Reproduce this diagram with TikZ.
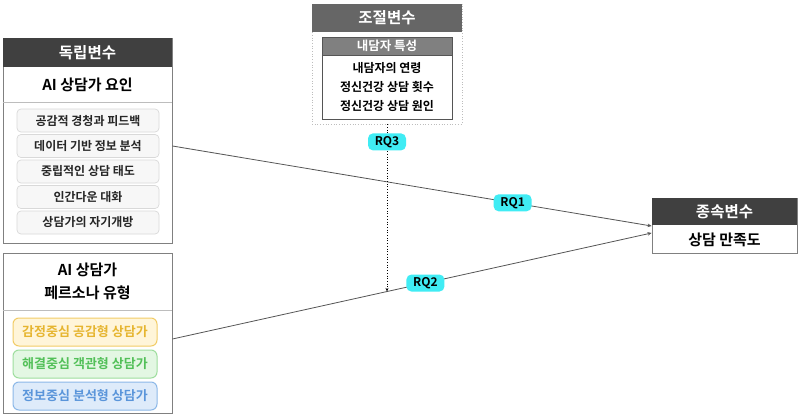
\documentclass[tikz,border=0pt]{standalone}
\usepackage{fontspec}
\setmainfont{Noto Sans CJK KR}[BoldFont={Noto Sans CJK KR Bold}]
\usetikzlibrary{arrows.meta}
\definecolor{hdark}{HTML}{404040}
\definecolor{modhead}{HTML}{666666}
\definecolor{modinhead}{HTML}{808080}
\definecolor{boxline}{HTML}{808080}
\definecolor{sepgray}{HTML}{BDBDBD}
\definecolor{itemfill}{HTML}{F7F7F7}
\definecolor{itemline}{HTML}{D9D9D9}
\definecolor{itemtext}{HTML}{262626}
\definecolor{rqcyan}{HTML}{40ECF4}
\definecolor{yfill}{HTML}{FFF5D9}
\definecolor{yline}{HTML}{F2CC66}
\definecolor{ytext}{HTML}{E6B530}
\definecolor{gfill}{HTML}{E3F7E3}
\definecolor{gline}{HTML}{9EDE9E}
\definecolor{gtext}{HTML}{52C058}
\definecolor{bfill}{HTML}{DEEBFA}
\definecolor{bline}{HTML}{8CB8E8}
\definecolor{btext}{HTML}{5A95DA}
\definecolor{connline}{HTML}{555555}
\tikzset{
  outerbox/.style={draw=boxline, line width=0.9pt, inner sep=0pt, fill=white},
  hdr/.style={inner sep=0pt, text=white, font=\bfseries\fontsize{15.5}{18}\selectfont},
  ttl/.style={inner sep=0pt, text=black, font=\bfseries\fontsize{15}{23}\selectfont, align=center},
  itembox/.style={draw=itemline, fill=itemfill, rounded corners=4pt, line width=0.7pt, inner sep=0pt,
    minimum width=142pt, minimum height=23pt, text=itemtext, font=\bfseries\fontsize{12}{14}\selectfont},
  persona/.style={rounded corners=6pt, line width=1pt, inner sep=0pt,
    minimum width=144pt, minimum height=28pt, font=\bfseries\fontsize{13}{15}\selectfont},
  rq/.style={fill=rqcyan, rounded corners=5pt, inner sep=0pt, minimum width=38pt, minimum height=17pt,
    text=black, font=\bfseries\fontsize{12}{13}\selectfont},
  conn/.style={draw=connline, line width=0.8pt, -{Stealth[length=4pt,width=3.5pt]}},
  modarrow/.style={draw=black, line width=0.7pt, dotted, -{Stealth[length=3.5pt,width=3pt]}},
}
\begin{document}
\begin{tikzpicture}[x=1pt,y=-1pt]
\useasboundingbox (0,0) rectangle (800,420);
\fill[white] (0,0) rectangle (800,420);

% Independent variable box 1
\node[outerbox, minimum width=169pt, minimum height=205pt] (iv1) at (87.5,140.5) {};
\node[hdr, fill=hdark, minimum width=169pt, minimum height=29pt] (iv1h) at (87.5,52.5) {독립변수};
\node[ttl, minimum width=169pt, minimum height=35pt] (iv1t) at (87.5,84.5) {AI 상담가 요인};
\draw[sepgray, line width=0.8pt] (iv1t.south west) -- (iv1t.south east);
\node[itembox] (a1) at (88,120.5) {공감적 경청과 피드백};
\node[itembox] (a2) at (88,146) {데이터 기반 정보 분석};
\node[itembox] (a3) at (88,171.5) {중립적인 상담 태도};
\node[itembox] (a4) at (88,197) {인간다운 대화};
\node[itembox] (a5) at (88,222.5) {상담가의 자기개방};

% Independent variable box 2
\node[outerbox, minimum width=169pt, minimum height=160pt] (iv2) at (87.5,333) {};
\node[ttl, minimum width=169pt, minimum height=57pt] (iv2t) at (87.5,281.5) {AI 상담가\\페르소나 유형};
\draw[sepgray, line width=0.8pt] (iv2t.south west) -- (iv2t.south east);
\node[persona, draw=yline, fill=yfill, text=ytext] (p1) at (85,332) {감정중심 공감형 상담가};
\node[persona, draw=gline, fill=gfill, text=gtext] (p2) at (85,364) {해결중심 객관형 상담가};
\node[persona, draw=bline, fill=bfill, text=btext] (p3) at (85,396) {정보중심 분석형 상담가};

% Moderator
\node[draw=sepgray, dotted, line width=0.7pt, inner sep=0pt, minimum width=150pt, minimum height=120pt] (mod) at (387,64) {};
\node[hdr, fill=modhead, minimum width=150pt, minimum height=28pt] (modh) at (387,18) {조절변수};
\node[draw=connline, line width=0.8pt, fill=white, inner sep=0pt, minimum width=130pt, minimum height=82pt] (modin) at (387,78) {};
\node[draw=connline, line width=0.8pt, fill=modinhead, inner sep=0pt, minimum width=130pt, minimum height=18pt,
  text=white, font=\bfseries\fontsize{12.5}{14}\selectfont] (modinh) at (387,46) {내담자 특성};
\node[inner sep=0pt, align=center, font=\bfseries\fontsize{12}{19}\selectfont] (modtxt) at (387,87.5)
  {내담자의 연령\\정신건강 상담 횟수\\정신건강 상담 원인};

% Dependent
\node[outerbox, minimum width=145pt, minimum height=55pt] (dv) at (724.5,225.5) {};
\node[hdr, fill=hdark, minimum width=145pt, minimum height=27pt] (dvh) at (724.5,211.5) {종속변수};
\node[ttl, font=\bfseries\fontsize{15}{17}\selectfont] (dvt) at (724.5,239.5) {상담 만족도};

% Connectors
\draw[conn] ([yshift=-5.5pt]iv1.east) -- node[rq, pos=0.71] (rq1) {RQ1} ([yshift=-0.5pt]dv.west);
\draw[conn] ([yshift=-6pt]iv2.east) -- coordinate[pos=0.449] (m) node[rq, pos=0.528] (rq2) {RQ2} ([yshift=-7.5pt]dv.west);
\draw[modarrow] (mod.south) -- node[rq, pos=0.105] (rq3) {RQ3} (mod.south |- m);
\end{tikzpicture}
\end{document}
